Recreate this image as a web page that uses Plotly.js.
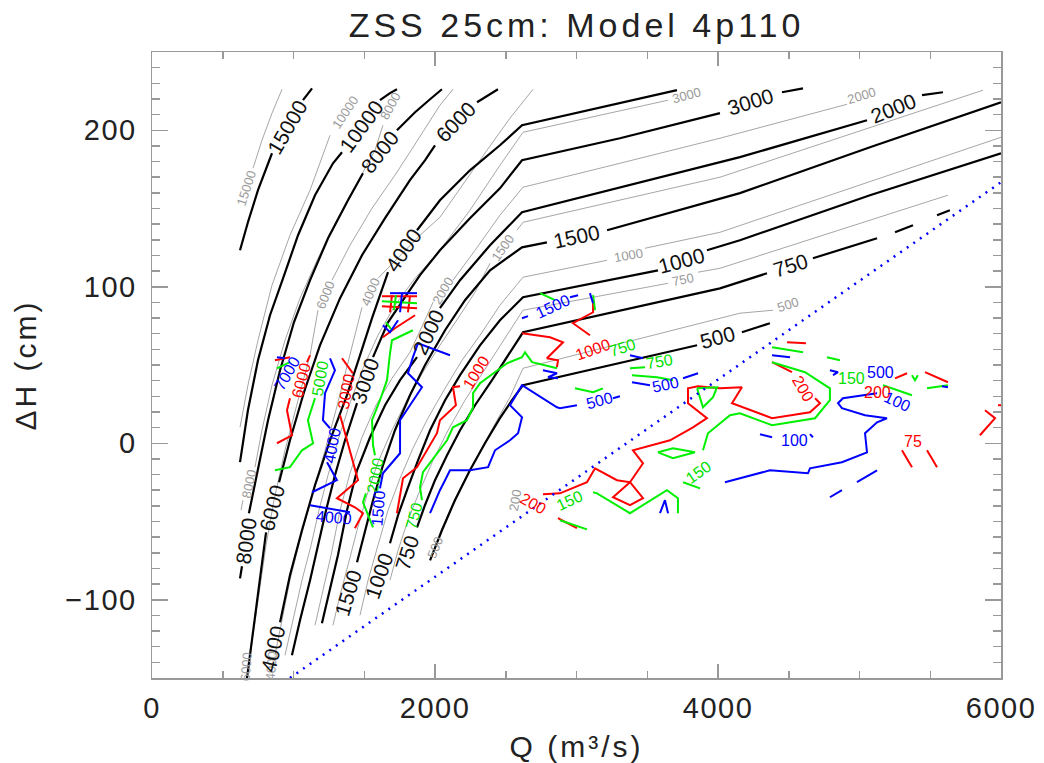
<!DOCTYPE html>
<html><head><meta charset="utf-8">
<script src="https://cdn.plot.ly/plotly-3.0.1.min.js"></script>
<style>
html,body{margin:0;padding:0;background:#fff;}
.gtitle{letter-spacing:4px;}
.xtick text,.ytick text{letter-spacing:1.5px;}
.g-xtitle text,.g-ytitle text{letter-spacing:3px;}
</style></head>
<body><div id="chart" style="width:1044px;height:763px;"></div>
<script>
// ---- black (thick) contour levels: Q (m3/s), dH (cm); null = gap for inline label
const b15000Q=[622,678,749,848,null,1067,1131];
const b15000H=[123.3,141.2,161.7,185.3,null,219.2,226.8];
const b10000Q=[622,678,749,834,926,1032,1152,1279,1343,null,1611,1682,1731];
const b10000H=[-12.1,21.1,53.0,81.8,105.4,132.9,158.5,178.9,185.9,null,219.2,223.7,226.2];
const b8000Q=[622,636,null,685,749,820,905,1003,1117,1244,1385,1491,null,1731,1859,1965,2049];
const b8000H=[-86.3,-78.6,null,-44.7,-16.0,14.7,46.6,77.3,104.2,131.0,155.3,172.5,null,200.0,211.5,219.8,226.2];
const b6000Q=[671,707,742,777,806,null,898,975,1074,1187,1329,1484,1647,1823,1929,2000,null,2297,2375,2445];
const b6000H=[-150.2,-125.9,-100.3,-78.0,-56.9,null,-24.9,1.9,32.6,62.6,92.7,120.1,143.8,168.1,180.8,190.4,null,217.9,222.4,226.2];
const b4000Q=[905,975,1060,1152,1258,1378,1470,1555,1668,null,1873,2035,2247,2459,2615,3166,3710];
const b4000H=[-114.4,-84.3,-55.6,-26.8,1.9,30.7,56.2,79.9,109.3,null,136.1,155.3,174.4,190.4,203.2,214.7,225.6];
const b3000Q=[989,1046,1117,1173,1230,1293,1364,1449,null,1562,1668,1774,1894,2035,2247,2459,2615,3307,4014,null,4452,4601];
const b3000H=[-135.5,-113.1,-87.5,-65.2,-42.8,-20.4,1.9,25.6,null,55.0,77.3,91.4,107.4,123.3,143.8,162.9,180.8,194.9,210.9,null,224.3,226.8];
const b2000Q=[1201,1258,1314,1378,1449,1541,1647,1753,1873,null,2035,2177,2389,2615,4155,5053,null,5442,5590];
const b2000H=[-115.0,-93.9,-71.6,-42.8,-17.3,3.8,24.3,40.3,55.0,null,86.3,104.2,126.5,147.6,182.8,206.4,null,222.4,224.3];
const b1500Q=[1449,1505,1562,1632,1717,1823,1929,2071,2212,2389,2615,2791,null,3216,4155,5074,6000];
const b1500H=[-76.0,-55.6,-36.4,-14.1,8.3,30.7,49.8,72.2,91.4,110.5,125.2,128.4,null,136.1,159.8,189.1,217.9];
const b1000Q=[1682,1739,1802,1880,1965,2071,2177,2318,2459,2622,3576,null,3922,4155,5074,6000];
const b1000H=[-63.9,-46.0,-30.0,-10.9,8.3,27.5,43.5,62.6,78.6,93.3,110.5,null,123.3,129.7,158.5,185.3];
const b750Q=[1873,1929,2000,2085,2177,2283,2403,2516,2622,4014,4346,null,4671,5124,null,5251,5378,null,5548,5639];
const b750H=[-53.7,-39.6,-23.6,-7.7,8.3,24.3,40.3,56.2,70.9,99.0,108.6,null,118.2,131.0,null,134.8,139.3,null,145.7,148.9];
const b500Q=[1965,2049,2141,2247,2353,2459,2544,2622,3852,null,4169,4367];
const b500H=[-74.8,-55.6,-36.4,-17.3,0,16.0,27.5,37.1,62.6,null,70.9,76.7];

// ---- grey (thin) contour levels
const g15000Q=[714,777,848,919];
const g15000H=[175.7,193.6,210.9,226.2];
const g10000Q=[622,678,749,848,975,1117,1258];
const g10000H=[10.2,37.1,65.8,101.0,132.9,161.7,196.8];
const g8000Q=[629,643,null,728,777,848,940,1046,1173,1314,1456,1576,1632];
const g8000H=[-42.8,-36.4,null,-15.3,8.3,37.1,65.8,92.7,118.2,143.8,166.8,187.2,203.2];
const g6000Q=[693,728,763,806,862,940,1032,1117,1173,null,1272,1399,1555,1717,1823,1929,2035,2127];
const g6000H=[-135.5,-113.1,-90.7,-65.2,-36.4,-4.5,27.5,56.2,85.0,null,104.2,126.5,150.2,171.3,186.0,201.3,216.0,226.2];
const g4000Q=[869,919,975,1046,1131,1223,1300,1371,1442,1484,null,1597,1753,1894,2035,2191,2367,2530,2693];
const g4000H=[-135.5,-113.1,-87.5,-62.0,-33.2,-4.5,21.1,46.6,72.2,86.9,null,105.4,120.1,132.9,144.4,164.9,187.2,207.7,226.2];
const g3000Q=[940,996,1060,1124,1180,1244,1314,1399,1491,1597,1717,1859,2035,2247,2459,2622,3166,3647];
const g3000H=[-135.5,-113.1,-87.5,-65.2,-42.8,-20.4,1.9,25.6,47.9,69.0,88.2,105.4,123.3,148.9,177.6,198.7,209.6,219.2];
const g2000Q=[1152,1208,1265,1329,1399,1484,1583,1696,1823,1929,1986,null,2127,2283,2459,2622,3307,4014,4912];
const g2000H=[-116.3,-93.9,-71.6,-42.8,-19.2,3.8,24.3,41.5,58.1,78.6,90.1,null,104.2,123.3,145.7,163.6,178.9,194.9,216.6];
const g1500Q=[1279,1329,1385,1449,1519,1597,1696,1802,1915,2035,2163,2283,2389,null,2579,2622,4014,5873];
const g1500H=[-116.3,-97.1,-78.0,-55.6,-33.2,-12.1,8.3,27.5,45.4,62.6,79.9,96.5,115.0,null,136.1,141.2,170.0,225.6];
const g1000Q=[1470,1527,1597,1668,1753,1844,1950,2071,2191,2318,2459,2622,3216,null,3484,4014,6000];
const g1000H=[-109.9,-87.5,-65.2,-42.8,-22.4,-3.2,16.0,35.1,53.0,69.0,88.2,106.1,116.9,null,124.6,134.8,195.5];
const g750Q=[1682,1739,1809,1894,1986,2092,2212,2339,2480,2622,3647,null,3859,4014,5625];
const g750H=[-87.5,-68.4,-49.2,-30.0,-10.9,8.3,27.5,45.4,65.8,85.0,102.2,null,109.3,111.8,158.5];
const g500Q=[2035,2120,2226,2332,2438,2530,2622,4155,4389];
const g500H=[-57.5,-39.6,-20.4,-2.6,14.7,29.4,47.9,83.1,85.0];

// ---- red / green / blue contour pieces
const redSegQ=[[1117,1095],[975,954,975,989,883],[1343,1420],[1329,1378,1456,1307,1434,1491,1434],
 [2177,2127,2148,2035,2014,1943,1873,1774,1753,1731],[2615,2813,2905,2791,2869,2862],[3117,3117,2975,3095],
 [2763,2883,3074,3131,3286,3378,3470,3399,3661,3823,3922,3788,3788,3859,4014,4169,4099,4382,4650,4721,4686],
 [4523,4382],[3378,3258,3378,3470,3378],[2869,3003],[5300,5371],[5477,5548],[5887,5958,5851],[5979,6000],
 [4488,4622],[5463,5625],[5251,5336],[1625,1873],[1625,1873],[1696,1682],[1823,1809],[1632,1717,1859],[869,975]];
const redSegH=[[56.2,51.8],[28.8,21.1,11.5,5.1,0],[54.3,44.7],[17.9,1.9,-23.6,-35.1,-40.9,-44.7,-54.3],
 [36.4,35.8,24.3,14.7,6.4,-4.5,-15.3,-22.4,-34.5,-44.7],[70.3,67.7,64.5,54.3,53.0,48.6],[91.4,83.7,76.7,69.0],
 [-32.6,-32.0,-24.9,-16.0,-23.6,-24.9,-12.8,-4.5,1.9,10.2,16.0,25.6,35.1,36.4,35.1,35.8,25.6,16.0,19.8,25.6,28.8],
 [45.4,51.8],[-24.9,-34.5,-39.6,-35.1,-24.9],[-47.9,-54.3],[-4.5,-15.3],[-4.5,-15.3],[21.1,16.0,5.1],[24.3,24.3],
 [64.5,63.9],[45.4,39.0],[41.5,44.7],[93.9,93.9],[87.5,86.3],[94.6,83.7],[93.9,83.7],[67.7,73.5,81.8],[53.0,55.0]];
const greenSegQ=[[1152,1102,1138,1060,975,869],[1844,1696,1682,1661,1611,1555,1562,1576],[1512,1491,1562],
 [2862,2686,2636,2615,2509,2318,2269,2269,2226,2127,2085,1965,1915,1894,1908],[3378,3484],[3392,3569,3682],
 [2989,3117,3187],[3117,3145,3378,3639,3717,3717],[3753,3873],[3894,3929,4085,4155,4382,4686,4791,4791,4615,4382],
 [3576,3682,3837,3682,3576],[3852,3993,3965,3894,3852],[4382,4601],[4770,4862],[2883,3074],[5477,5625],
 [5371,5392,5413],[5166,5371],[2742,2848],[3117,3131],[1625,1873],[1724,1710],[1654,1696],[883,975]];
const greenSegH=[[28.8,14.7,0,-4.5,-15.3,-17.3],[72.2,65.8,57.5,40.3,27.5,14.7,-1.3,-7.7],[-32.0,-37.7,-53.7],
 [47.9,51.8,58.1,55.0,51.1,38.3,32.0,23.0,14.7,10.2,1.9,-12.1,-18.5,-28.1,-36.4],[47.9,48.6],[43.5,42.2,40.3],
 [35.1,32.6,35.1],[-31.3,-32.0,-44.7,-30.0,-35.1,-44.7],[-24.9,-28.8],[-4.5,6.4,17.9,19.2,11.5,16.0,27.5,35.1,45.4,51.8],
 [-5.8,-9.6,-5.8,-3.2,-5.8],[35.1,35.8,29.4,23.0,35.1],[61.3,58.1],[55.0,53.0],[-49.2,-55.0],[35.1,37.1],
 [43.5,40.3,43.5],[37.1,30.7],[95.9,91.4],[94.6,85.0],[90.7,89.5],[94.6,85.0],[77.3,72.2],[47.9,51.8]];
const blueSegQ=[[1258,1293,1223,1208,1258],[1237,1307,1131],[1117,1399],[2106,1880,1844,1809,1908,1753,1753,1632,1611],
 [3307,3258],[3003,2883,2862,2615,2530,2615,2587,2530,2424,2375,2247,2106,2071,2035,1965],[2615,2657],[2954,3011],
 [3095,3117],[3378,3470],[3392,3519],[3753,3859],[2763,2862,2799,2869],
 [4049,4367,4636,4650,4876,5053,5039,5124,5194,5039,4876,4848,4883,5124],[4297,4382],[4650,4671],[4791,4876],
 [4982,5124],[4791,4848,4813],[5583,5625],[4382,4509],[3590,3625,3647],[1682,1873],[1767,1753],[1632,1682,1739],[883,940]];
const blueSegH=[[54.3,46.6,32.0,14.7,9.6],[-12.1,-23.6,-31.3],[-39.6,-44.1],[56.2,63.9,55.0,44.7,35.8,14.7,-6.4,-19.2,-28.8],
 [30.0,28.8],[24.3,22.4,23.0,37.1,24.3,16.6,6.4,1.9,-4.5,-15.3,-17.3,-17.3,-23.6,-30.0,-44.7],[79.9,81.2],[93.3,94.6],
 [95.9,89.5],[56.2,54.3],[39.0,37.1],[41.5,44.7],[46.6,44.7,42.2,41.5],
 [-24.9,-17.3,-19.2,-16.0,-12.1,-5.8,6.4,13.4,16.0,17.9,22.4,25.6,28.8,32.0],[5.8,3.8],[5.8,3.8],[-34.5,-30.0],
 [-24.9,-17.3],[46.6,45.4,43.5],[36.4,35.8],[56.2,55.0],[-44.7,-36.4,-44.7],[95.9,95.9],[95.9,83.7],[75.4,70.9,78.6],[55.0,54.3]];

// ---- dotted limit line
const limitQ=[975,6000];
const limitH=[-150,166.8];

// ---- contour labels
const blackLabelText=['15000','10000','8000','8000','6000','6000','4000','4000','3000','3000','2000','2000','1500','1500','1000','1000','750','750','500'];
const blackLabelQ=[954,1477,1611,664,2148,848,1774,855,1505,4233,1951,5237,3003,1385,3745,1604,4509,1802,3993];
const blackLabelH=[201.9,202.6,186.6,-62.0,205.8,-40.9,123.3,-131.0,40.3,218.5,70.9,214.1,132.3,-95.2,116.9,-84.3,113.7,-69.7,67.7];
const blackLabelAngle=[-60,-54,-52,-82,-46,-75,-56,-77,-71,-17,-65,-22,-12,-73,-15,-71,-17,-72,-15];
const greyLabelText=['15000','10000','8000','8000','6000','6000','4000','4000','3000','2000','2000','1500','1000','750','500','500','200'];
const greyLabelQ=[664,1364,1682,685,1223,664,1541,841,3774,2056,5017,2480,3364,3753,2000,4495,2565];
const greyLabelH=[163.0,211.5,215.3,-25.6,94.6,-142.5,96.5,-142.5,222.4,97.8,222.4,125.2,120.1,104.8,-66.5,88.8,-36.4];
const greyLabelAngle=[-72,-56,-62,-78,-68,-85,-67,-85,-15,-60,-17,-55,-10,-12,-68,-18,-80];
const redLabelText=['6000','3000','1000','1000','200','200','200','75'];
const redLabelQ=[1053,1371,2290,3117,2693,4601,5124,5378];
const redLabelH=[40.3,33.2,45.4,60.1,-38.3,35.1,32.6,1.3];
const redLabelAngle=[-75,-80,-58,-20,30,60,0,0];
const greenLabelText=['5000','2000','750','750','750','150','150','150'];
const greenLabelQ=[1187,1576,1851,3328,3590,2954,3859,4940];
const greenLabelH=[41.5,-20.4,-46.0,61.3,52.4,-36.4,-18.5,41.5];
const greenLabelAngle=[-80,-80,-75,-18,-10,-25,-35,0];
const blueLabelText=['7000','4000','4000','1500','500','1500','500','100','100','500'];
const blueLabelQ=[954,1272,1286,1597,3166,2834,3632,4544,5265,5150];
const blueLabelH=[44.7,-1.3,-47.3,-41.5,27.5,87.5,37.7,1.9,26.8,45.4];
const blueLabelAngle=[-60,-80,5,-85,-15,-25,-12,0,25,0];

// ---------------------------------------------------------------
const FONT='"Liberation Sans", Arial, Helvetica, sans-serif';
function joinSegs(qs,hs){const x=[],y=[];qs.forEach((q,i)=>{if(i){x.push(null);y.push(null);}q.forEach((v,j)=>{x.push(v);y.push(hs[i][j]);});});return {x,y};}
function ln(x,y,color,width,dash){return {type:'scatter',mode:'lines',x:x,y:y,line:{color:color,width:width,dash:dash||'solid'},hoverinfo:'skip',showlegend:false};}

const traces=[];
const greyC='#a6a6a6';
[[g15000Q,g15000H],[g10000Q,g10000H],[g8000Q,g8000H],[g6000Q,g6000H],[g4000Q,g4000H],[g3000Q,g3000H],
 [g2000Q,g2000H],[g1500Q,g1500H],[g1000Q,g1000H],[g750Q,g750H],[g500Q,g500H]].forEach(p=>traces.push(ln(p[0],p[1],greyC,1)));
[[b15000Q,b15000H],[b10000Q,b10000H],[b8000Q,b8000H],[b6000Q,b6000H],[b4000Q,b4000H],[b3000Q,b3000H],
 [b2000Q,b2000H],[b1500Q,b1500H],[b1000Q,b1000H],[b750Q,b750H],[b500Q,b500H]].forEach(p=>traces.push(ln(p[0],p[1],'#000',2.2)));
const rj=joinSegs(redSegQ,redSegH), gj=joinSegs(greenSegQ,greenSegH), bj=joinSegs(blueSegQ,blueSegH);
traces.push(ln(rj.x,rj.y,'#ff0000',2));
traces.push(ln(gj.x,gj.y,'#00f000',2));
traces.push(ln(bj.x,bj.y,'#0000ff',2));
traces.push(ln(limitQ,limitH,'#0000ff',2.5,'2px,6px'));

const ann=[];
function addLabels(t,q,h,a,color,size){t.forEach((s,i)=>ann.push({x:q[i],y:h[i],xref:'x',yref:'y',text:s,textangle:a[i],showarrow:false,
  xanchor:'center',yanchor:'middle',font:{family:FONT,size:size,color:color}}));}
addLabels(greyLabelText,greyLabelQ,greyLabelH,greyLabelAngle,'#9a9a9a',13);
addLabels(blackLabelText,blackLabelQ,blackLabelH,blackLabelAngle,'#111',21);
addLabels(redLabelText,redLabelQ,redLabelH,redLabelAngle,'#ff0000',16);
addLabels(greenLabelText,greenLabelQ,greenLabelH,greenLabelAngle,'#00e000',16);
addLabels(blueLabelText,blueLabelQ,blueLabelH,blueLabelAngle,'#0000ff',16);

const axisCommon={showline:true,linecolor:'#999',linewidth:1.5,mirror:'ticks',ticks:'inside',tickcolor:'#999',tickwidth:1.5,
  showgrid:false,zeroline:false,tickfont:{family:FONT,size:29,color:'#222'}};
const layout={
  width:1044,height:763,margin:{l:152,r:43,t:52,b:85},paper_bgcolor:'#fff',plot_bgcolor:'#fff',showlegend:false,
  title:{text:'ZSS 25cm: Model 4p110',font:{family:FONT,size:34,color:'#222'},x:0.5,xref:'paper',xanchor:'center',y:0.967,yref:'container',yanchor:'middle'},
  xaxis:Object.assign({},axisCommon,{range:[0,6000],tick0:0,dtick:2000,ticklen:14,ticklabelstandoff:4,
    minor:{dtick:500,tick0:0,ticks:'inside',ticklen:7,tickcolor:'#999',tickwidth:1.5},
    title:{text:'Q (m³/s)',font:{family:FONT,size:30,color:'#222'},standoff:14}}),
  yaxis:Object.assign({},axisCommon,{range:[-150,250],tick0:0,dtick:100,ticklen:16,ticklabelstandoff:8,
    minor:{dtick:10,tick0:0,ticks:'inside',ticklen:8,tickcolor:'#999',tickwidth:1.5},
    title:{text:'ΔH (cm)',font:{family:FONT,size:30,color:'#222'},standoff:20}}),
  annotations:ann
};
Plotly.newPlot('chart',traces,layout,{staticPlot:true,displayModeBar:false});
</script></body></html>
